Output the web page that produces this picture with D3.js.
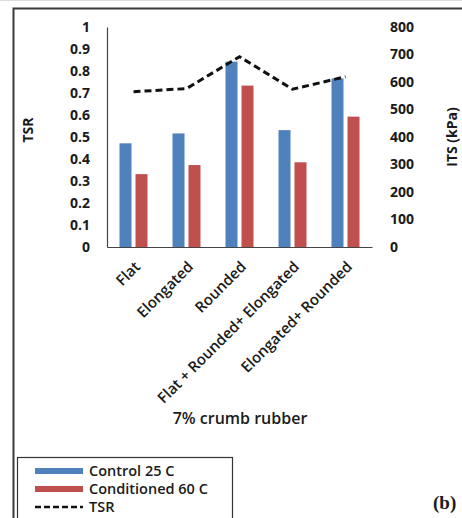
<!DOCTYPE html>
<html>
<head>
<meta charset="utf-8">
<script src="https://cdn.jsdelivr.net/npm/d3@7"></script>
<style>
  html, body { margin: 0; padding: 0; background: #fff; }
  svg text { font-family: "Open Sans", "Noto Sans", sans-serif; font-weight: 700; fill: #1a1a1a; }
</style>
</head>
<body>
<div id="chart"></div>
<script>
// categories and values
const categories = ["Flat", "Elongated", "Rounded", "Flat + Rounded+ Elongated", "Elongated+ Rounded"];
const control25 = [377, 413, 674, 425, 613];      // ITS (kPa)
const conditioned60 = [265, 298, 587, 308, 474];  // ITS (kPa)
const tsr = [0.706, 0.72, 0.865, 0.717, 0.774];
const tsrTicks = [0, 0.1, 0.2, 0.3, 0.4, 0.5, 0.6, 0.7, 0.8, 0.9, 1];
const itsTicks = [0, 100, 200, 300, 400, 500, 600, 700, 800];

const width = 462, height = 518;
const plot = { left: 107, right: 372, top: 27, bottom: 247 };

const svg = d3.select("#chart").append("svg")
  .attr("width", width)
  .attr("height", height);

// outer frame (left + top edges visible)
svg.append("line").attr("x1", 0).attr("x2", width).attr("y1", 0.5).attr("y2", 0.5)
  .attr("stroke", "#ddd").attr("stroke-width", 1);
svg.append("path")
  .attr("d", `M13.5,${height} V8.5 H${width}`)
  .attr("fill", "none").attr("stroke", "#3a3a3a").attr("stroke-width", 2);

const x = d3.scaleBand().domain(categories).range([plot.left, plot.right]);
const yL = d3.scaleLinear().domain([0, 1]).range([plot.bottom, plot.top]);
const yR = d3.scaleLinear().domain([0, 800]).range([plot.bottom, plot.top]);

// left axis
const leftAxis = svg.append("g")
  .attr("transform", `translate(${plot.left},0)`)
  .call(d3.axisLeft(yL).tickValues(tsrTicks).tickFormat(d => d3.format("")(+d.toFixed(1))).tickSize(0).tickPadding(17));
leftAxis.select(".domain").attr("stroke", "#444").attr("stroke-width", 1.2);
leftAxis.selectAll("text").style("font-size", "14px");

// right axis
const rightAxis = svg.append("g")
  .attr("transform", `translate(${plot.right},0)`)
  .call(d3.axisRight(yR).tickValues(itsTicks).tickSize(0).tickPadding(18));
rightAxis.select(".domain").remove();
rightAxis.selectAll("text").style("font-size", "14px");

// bottom axis
const bottomAxis = svg.append("g")
  .attr("transform", `translate(0,${plot.bottom})`)
  .call(d3.axisBottom(x).tickSize(0).tickPadding(0));
bottomAxis.select(".domain").attr("stroke", "#444").attr("stroke-width", 1.2);
bottomAxis.selectAll("text")
  .style("font-size", "15px")
  .style("font-weight", "600")
  .attr("text-anchor", "end")
  .attr("dy", "0.35em")
  .attr("transform", "translate(4,17) rotate(-45)")
  .attr("y", 0);

// bars
const barW = 12, gap = 4;
const groupW = barW * 2 + gap;
const bars = svg.append("g");
bars.selectAll("rect.c25")
  .data(categories)
  .join("rect")
  .attr("class", "c25")
  .attr("x", d => x(d) + x.bandwidth() / 2 - groupW / 2)
  .attr("y", (d, i) => yR(control25[i]))
  .attr("width", barW)
  .attr("height", (d, i) => yR(0) - yR(control25[i]))
  .attr("fill", "#4F81BD");
bars.selectAll("rect.c60")
  .data(categories)
  .join("rect")
  .attr("class", "c60")
  .attr("x", d => x(d) + x.bandwidth() / 2 - groupW / 2 + barW + gap)
  .attr("y", (d, i) => yR(conditioned60[i]))
  .attr("width", barW)
  .attr("height", (d, i) => yR(0) - yR(conditioned60[i]))
  .attr("fill", "#C0504D");

// TSR line
const line = d3.line()
  .x((d, i) => x(categories[i]) + x.bandwidth() / 2)
  .y(d => yL(d));
svg.append("path")
  .datum(tsr)
  .attr("d", line)
  .attr("fill", "none")
  .attr("stroke", "#111")
  .attr("stroke-width", 3)
  .attr("stroke-dasharray", "7,4");

// axis titles
svg.append("text")
  .attr("transform", "translate(33,130) rotate(-90)")
  .attr("text-anchor", "middle")
  .style("font-size", "14px")
  .text("TSR");
svg.append("text")
  .attr("transform", "translate(457,137) rotate(-90)")
  .attr("text-anchor", "middle")
  .style("font-size", "14px")
  .text("ITS (kPa)");
svg.append("text")
  .attr("x", 240).attr("y", 424)
  .attr("text-anchor", "middle")
  .style("font-size", "16px")
  .style("font-weight", "600")
  .text("7% crumb rubber");

// legend
const legend = svg.append("g");
legend.append("rect")
  .attr("x", 17.5).attr("y", 457.5).attr("width", 215).attr("height", 70)
  .attr("fill", "#fff").attr("stroke", "#333").attr("stroke-width", 1.2);
const legendItems = [
  { label: "Control 25 C", color: "#4F81BD", type: "bar" },
  { label: "Conditioned 60 C", color: "#C0504D", type: "bar" },
  { label: "TSR", color: "#111", type: "line" }
];
legendItems.forEach((it, i) => {
  const cy = 471 + i * 18;
  if (it.type === "bar") {
    legend.append("rect").attr("x", 35).attr("y", cy - 3).attr("width", 48).attr("height", 6).attr("fill", it.color);
  } else {
    legend.append("line").attr("x1", 35).attr("x2", 83).attr("y1", cy).attr("y2", cy)
      .attr("stroke", it.color).attr("stroke-width", 2.5).attr("stroke-dasharray", "6,3");
  }
  legend.append("text")
    .attr("x", 89).attr("y", cy + 5)
    .style("font-size", "14.5px")
    .style("font-weight", "600")
    .text(it.label);
});

svg.append("text")
  .attr("x", 433).attr("y", 509)
  .style("font-family", "'Liberation Serif', 'DejaVu Serif', serif")
  .style("font-size", "19px")
  .text("(b)");
</script>
</body>
</html>
